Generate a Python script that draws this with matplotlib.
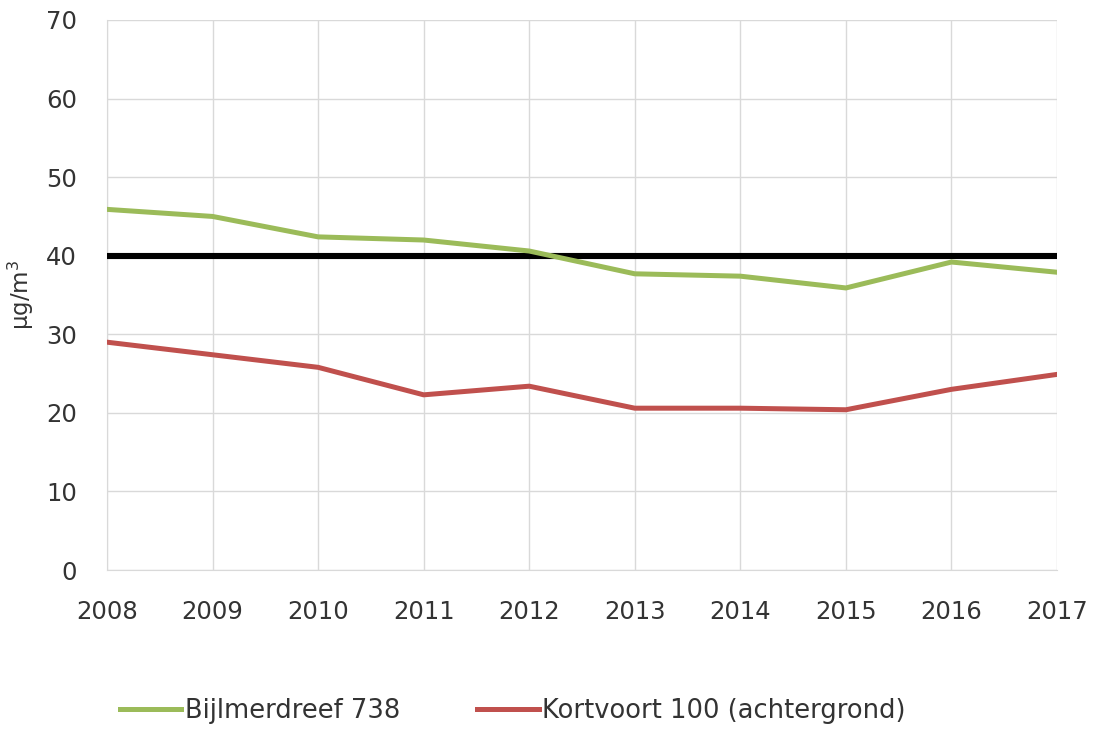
import matplotlib.pyplot as plt

years = [2008, 2009, 2010, 2011, 2012, 2013, 2014, 2015, 2016, 2017]
bijlmerdreef = [45.9, 45.0, 42.4, 42.0, 40.6, 37.7, 37.4, 35.9, 39.2, 37.9]
kortvoort = [29.0, 27.4, 25.8, 22.3, 23.4, 20.6, 20.6, 20.4, 23.0, 24.9]
norm = 40

plt.rcParams['font.family'] = ['DejaVu Sans']
TXT = '#333333'

fig = plt.figure(figsize=(10.95, 7.29), dpi=100)
ax = fig.add_axes([0.0977, 0.218, 0.8676, 0.7546])

ax.plot(years, [norm] * len(years), color='black', lw=4.4, zorder=3)
ax.plot(years, bijlmerdreef, color='#9BBB59', lw=3.6, label='Bijlmerdreef 738', zorder=4)
ax.plot(years, kortvoort, color='#C0504D', lw=3.6, label='Kortvoort 100 (achtergrond)', zorder=4)

ax.set_xlim(2008, 2017)
ax.set_ylim(0, 70)
ax.set_xticks(years)
ax.set_yticks(range(0, 71, 10))
ax.grid(True, color='#D9D9D9', lw=1)
ax.set_axisbelow(True)
for s in ['top', 'right']:
    ax.spines[s].set_visible(False)
ax.spines['left'].set_color('#D9D9D9')
ax.spines['bottom'].set_color('#D9D9D9')
ax.tick_params(axis='x', length=0, labelsize=17.5, colors=TXT, pad=21.5)
ax.tick_params(axis='y', length=0, labelsize=17.5, colors=TXT, pad=21.5)
ax.set_ylabel('µg/m$^3$', fontsize=16.5, color=TXT, labelpad=7)

leg = fig.legend(loc='center', bbox_to_anchor=(0.468, 0.025), ncol=2, frameon=False,
                 fontsize=18.5, handlelength=2.4, columnspacing=3.0, handletextpad=0.12)
for t in leg.get_texts():
    t.set_color(TXT)

fig.savefig('out.png', dpi=100)
